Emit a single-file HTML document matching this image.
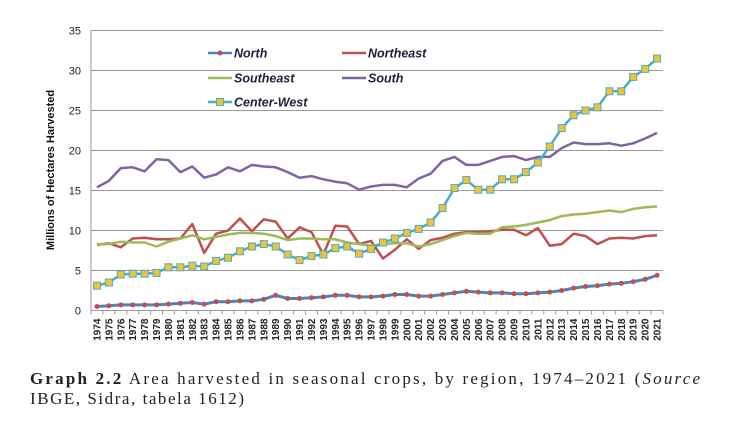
<!DOCTYPE html>
<html><head><meta charset="utf-8"><style>
body{margin:0;background:#fff;}
svg text{font-family:"Liberation Sans",sans-serif;}
</style></head><body>
<svg width="733" height="426" viewBox="0 0 733 426">
<g id="grid"></g><g id="axes"></g><g id="series"></g><g id="legend"></g>
<text x="30" y="384" style="font-family:'Liberation Serif',serif" font-size="17" fill="#222" textLength="670" lengthAdjust="spacing"><tspan font-weight="bold">Graph 2.2</tspan>   Area harvested in seasonal crops, by region, 1974–2021 (<tspan font-style="italic">Source</tspan></text>
<text x="30" y="404" style="font-family:'Liberation Serif',serif" font-size="17" fill="#222" textLength="214" lengthAdjust="spacing">IBGE, Sidra, tabela 1612)</text>
</svg>
<script>
const years=[];for(let y=1974;y<=2021;y++)years.push(String(y));
const yTicks=[0,5,10,15,20,25,30,35];
const north=[0.5,0.6,0.7,0.7,0.7,0.7,0.8,0.9,1.0,0.8,1.1,1.1,1.2,1.2,1.4,1.9,1.5,1.5,1.6,1.7,1.9,1.9,1.7,1.7,1.8,2.0,2.0,1.8,1.8,2.0,2.2,2.4,2.3,2.2,2.2,2.1,2.1,2.2,2.3,2.5,2.8,3.0,3.1,3.3,3.4,3.6,3.9,4.4];
const northeast=[8.2,8.4,7.9,9.0,9.1,8.9,8.9,9.0,10.8,7.2,9.6,10.0,11.5,9.9,11.4,11.1,9.0,10.4,9.8,7.0,10.6,10.5,8.3,8.7,6.5,7.6,8.9,7.7,8.8,9.1,9.6,9.8,9.8,9.9,10.1,10.1,9.4,10.3,8.1,8.3,9.6,9.3,8.3,9.0,9.1,9.0,9.3,9.4];
const southeast=[8.3,8.3,8.6,8.5,8.5,8.0,8.6,9.0,9.4,8.9,9.2,9.5,9.7,9.7,9.6,9.3,8.8,9.0,9.0,8.9,8.9,8.5,8.3,8.1,8.3,8.4,8.4,8.0,8.3,8.8,9.3,9.7,9.6,9.6,10.4,10.5,10.7,11.0,11.3,11.8,12.0,12.1,12.3,12.5,12.3,12.7,12.9,13.0];
const south=[15.4,16.2,17.8,17.9,17.4,18.9,18.8,17.3,18.0,16.6,17.0,17.9,17.4,18.2,18.0,17.9,17.3,16.6,16.8,16.4,16.1,15.9,15.1,15.5,15.7,15.7,15.4,16.5,17.1,18.7,19.2,18.2,18.2,18.7,19.2,19.3,18.8,19.2,19.2,20.3,21.0,20.8,20.8,20.9,20.6,20.9,21.5,22.2];
const centerWest=[3.1,3.5,4.5,4.6,4.6,4.7,5.4,5.4,5.6,5.5,6.2,6.6,7.4,8.0,8.3,8.0,7.0,6.3,6.8,7.0,7.8,8.0,7.1,7.7,8.5,9.0,9.7,10.2,11.0,12.8,15.3,16.3,15.1,15.1,16.4,16.4,17.3,18.5,20.5,22.8,24.4,25.0,25.4,27.4,27.4,29.2,30.2,31.5];

const NS='http://www.w3.org/2000/svg';
const L=91,R=663,T=30.5,B=310.5,YMAX=35;
const step=(R-L)/years.length;
const xs=i=>L+step*(i+0.5);
const ys=v=>B-(v/YMAX)*(B-T);
function mk(tag,attrs,parent){const e=document.createElementNS(NS,tag);for(const k in attrs)e.setAttribute(k,attrs[k]);parent.appendChild(e);return e;}
const grid=document.getElementById('grid'),axes=document.getElementById('axes'),ser=document.getElementById('series'),leg=document.getElementById('legend');
yTicks.forEach(t=>{
  if(t>0){const g=mk('line',{x1:L,x2:R,y1:ys(t),y2:ys(t),stroke:'#999','stroke-width':1},grid);
  
  }
  const tx=mk('text',{x:L-10,y:ys(t)+4,'text-anchor':'end','font-size':11,fill:'#222'},axes);tx.textContent=t;
  
  
});
const ya=mk('line',{x1:L,x2:L,y1:T,y2:B,stroke:'#999'},axes);


const xa=mk('line',{x1:L,x2:R,y1:B,y2:B,stroke:'#999'},axes);


years.forEach((y,i)=>{
  mk('line',{x1:L+step*i,x2:L+step*i,y1:B,y2:B+4,stroke:'#999'},axes);
  const x=xs(i)+3.5;
  const tx=mk('text',{x:x,y:B+8,'font-size':10,'font-weight':'bold',fill:'#222','text-anchor':'end',transform:`rotate(-90 ${x} ${B+8})`},axes);
  tx.textContent=y;
  
  
});
mk('line',{x1:R,x2:R,y1:B,y2:B+4,stroke:'#999'},axes);
const yt=mk('text',{x:54,y:170,'font-size':11,'font-weight':'bold',fill:'#111','text-anchor':'middle',transform:'rotate(-90 54 170)'},axes);
yt.textContent='Millions of Hectares Harvested';



function line(data,color,w,name){
  const p=mk('polyline',{points:data.map((v,i)=>xs(i)+','+ys(v)).join(' '),fill:'none',stroke:color,'stroke-width':w,'stroke-linejoin':'round'},ser);
  
  
}
line(northeast,'#c0504d',2.5,'northeast-line');
line(southeast,'#9bbb59',2.5,'southeast-line');
line(south,'#8064a2',2.5,'south-line');
line(centerWest,'#4bacc6',2.5,'center-west-line');
centerWest.forEach((v,i)=>{const r=mk('rect',{x:xs(i)-3.5,y:ys(v)-3.5,width:7,height:7,fill:'#f2c232',stroke:'#4bacc6','stroke-width':1},ser);

});
line(north,'#4f81bd',3,'north-line');
north.forEach((v,i)=>{const c=mk('circle',{cx:xs(i),cy:ys(v),r:2.5,fill:'#c0504d'},ser);

});

const legs=[['North','#4f81bd',208,53,'dot'],['Northeast','#c0504d',342,53,''],['Southeast','#9bbb59',208,78,''],['South','#8064a2',342,78,''],['Center-West','#4bacc6',208,102,'sq']];
legs.forEach(([n,c,x,y,m])=>{
  const g=mk('g',{},leg);
  
  
  mk('line',{x1:x,x2:x+24,y1:y,y2:y,stroke:c,'stroke-width':2.5},g);
  if(m==='dot')mk('circle',{cx:x+12,cy:y,r:2.5,fill:'#c0504d'},g);
  if(m==='sq')mk('rect',{x:x+8.5,y:y-3.5,width:7,height:7,fill:'#f2c232',stroke:'#4bacc6'},g);
  const t=mk('text',{x:x+26,y:y+4.5,'font-size':12.5,'font-weight':'bold','font-style':'italic',fill:'#1f1f3a'},g);t.textContent=n;
});
</script>
</body></html>
